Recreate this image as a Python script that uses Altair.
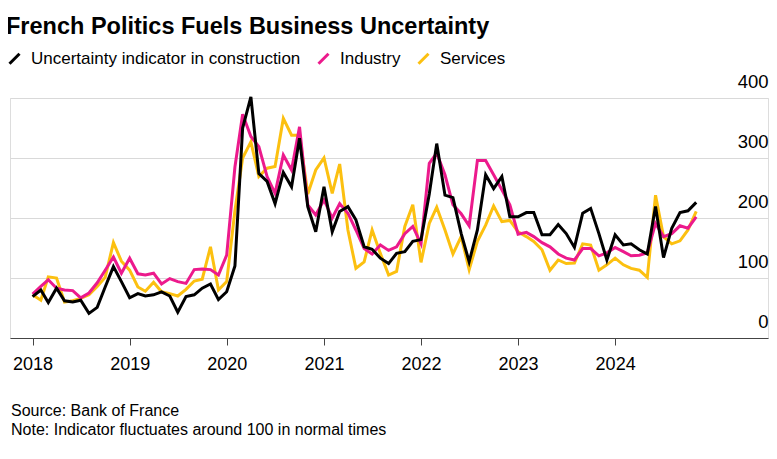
import altair as alt
import pandas as pd

months = pd.date_range("2018-01-01", periods=83, freq="MS").strftime("%Y-%m-%dT00:00:00").tolist()

construction = [69, 80, 59, 83, 62, 60, 63, 41, 51, 85, 119, 94,
                67, 74, 70, 72, 77, 70, 43, 69, 72, 83, 90, 64,
                77, 120, 350, 402, 274, 261, 224, 276, 252, 333, 219, 177,
                252, 177, 211, 219, 197, 152, 148, 133, 124, 141, 144, 161,
                164, 240, 324, 238, 234, 174, 127, 180, 272, 249, 269, 202,
                202, 209, 209, 172, 172, 189, 174, 151, 208, 216, 174, 130,
                172, 155, 157, 147, 140, 219, 134, 183, 209, 212, 226]
industry = [73, 86, 97, 83, 80, 79, 67, 75, 92, 113, 135, 108,
            133, 107, 105, 108, 90, 99, 94, 91, 114, 115, 114, 105,
            138, 285, 373, 336, 319, 269, 241, 305, 280, 352, 222, 205,
            230, 200, 224, 208, 180, 149, 140, 155, 146, 152, 174, 186,
            157, 291, 308, 272, 222, 207, 187, 296, 296, 272, 247, 222,
            173, 176, 169, 159, 152, 140, 133, 130, 149, 149, 137, 142,
            151, 144, 137, 138, 142, 191, 169, 174, 187, 183, 202]
services = [72, 63, 102, 100, 60, 62, 66, 72, 86, 101, 159, 128,
            113, 85, 78, 93, 77, 74, 70, 81, 95, 98, 152, 80,
            94, 212, 300, 327, 269, 283, 286, 366, 338, 338, 240, 280,
            300, 241, 290, 180, 116, 127, 180, 141, 105, 111, 186, 222,
            126, 191, 218, 180, 140, 169, 114, 161, 188, 220, 194, 196,
            177, 169, 161, 147, 113, 130, 124, 125, 157, 155, 113, 122,
            133, 122, 116, 113, 101, 238, 169, 157, 162, 180, 211]

series_names = ["Uncertainty indicator in construction", "Industry", "Services"]
series_colors = ["#000000", "#ec1a8c", "#fcc010"]
year_ticks = [2018, 2019, 2020, 2021, 2022, 2023, 2024]
y_ticks = [0, 100, 200, 300, 400]
footer_lines = ["Source: Bank of France", "Note: Indicator fluctuates around 100 in normal times"]

rows = []
for name, vals in zip(series_names, [construction, industry, services]):
    for m, v in zip(months, vals):
        rows.append({"month": m, "value": v, "series": name})
df = pd.DataFrame(rows)

FONT = "Liberation Sans"

x_enc = alt.X(
    "month:T",
    scale=alt.Scale(domain=[alt.DateTime(year=2017, month=10, date=8),
                            alt.DateTime(year=2025, month=7, date=29)]),
    axis=alt.Axis(values=[alt.DateTime(year=y, month=1, date=1) for y in year_ticks],
                  format="%Y", title=None, grid=False, domainColor="#444444",
                  tickColor="#444444", tickSize=7, labelFontSize=18, labelPadding=10,
                  labelColor="black", labelFont=FONT, domainWidth=1, tickWidth=1),
)
y_enc = alt.Y(
    "value:Q",
    scale=alt.Scale(domain=[0, 400]),
    axis=alt.Axis(orient="right", values=y_ticks, title=None, domain=False, ticks=False,
                  tickSize=0, labelPadding=0, labelAlign="right", labelBaseline="alphabetic",
                  labelOffset=-11, labelFontSize=18.5, labelFont=FONT, labelColor="black",
                  gridColor="#d9d9d9", gridWidth=1),
)
color_enc = alt.Color(
    "series:N",
    scale=alt.Scale(domain=series_names, range=series_colors),
    legend=alt.Legend(orient="none", legendX=-4, legendY=-48, direction="horizontal",
                      title=None, symbolType="M-1,1L1,-1", symbolSize=100,
                      symbolStrokeWidth=3, labelFontSize=17, labelFont=FONT,
                      labelColor="black", labelOffset=8, columnPadding=11,
                      labelLimit=500),
)

layers = []
for name in reversed(series_names):
    layers.append(
        alt.Chart(df).transform_filter(alt.datum.series == name)
        .mark_line(strokeWidth=3)
        .encode(x=x_enc, y=y_enc, color=color_enc)
    )

footer = alt.Chart(pd.DataFrame({"k": [0]})).mark_text(
    text=footer_lines, align="left", baseline="alphabetic", fontSize=16,
    lineHeight=19, font=FONT, color="black"
).encode(x=alt.value(1), y=alt.value(318))

chart = alt.layer(*layers, footer).properties(
    width=758, height=240,
    title=alt.TitleParams("French Politics Fuels Business Uncertainty", anchor="start",
                          fontSize=23.5, font=FONT, fontWeight="bold", color="black",
                          offset=12),
    autosize=alt.AutoSizeParams(type="none"),
    padding={"left": 2, "top": 90, "right": 1, "bottom": 113},
).configure_view(stroke=None).configure(background="white")

chart.save("out.html", embed_options={"renderer": "svg", "actions": False})
